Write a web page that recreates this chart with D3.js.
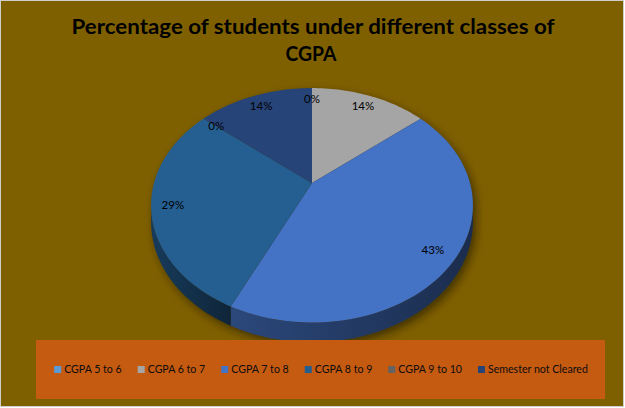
<!DOCTYPE html>
<html>
<head>
<meta charset="utf-8">
<script src="https://cdn.jsdelivr.net/npm/d3@7"></script>
<style>
    body { margin: 0; background: #ffffff; }
    text { font-family: Lato, "Liberation Sans", sans-serif; }
</style>
</head>
<body>
<div id="chart"></div>
<script>

// data
const categories = ["CGPA 5 to 6", "CGPA 6 to 7", "CGPA 7 to 8", "CGPA 8 to 9", "CGPA 9 to 10", "Semester not Cleared"];
const percentages = [0, 14, 43, 29, 0, 14];
const sliceColors = ["#5B9BD5", "#A5A5A5", "#4472C4", "#255E91", "#636363", "#264478"];
const titleLines = ["Percentage of students under different classes of", "CGPA"];

class Pie3DVis {

    constructor(parentElement) {
        this.parentElement = parentElement;
        this.width = 625;
        this.height = 408;

        this.data = categories.map((c, i) => ({label: c, value: percentages[i], color: sliceColors[i]}));

        this.initVis();
    }

    initVis() {
        let vis = this;

        vis.svg = d3.select("#" + vis.parentElement).append("svg")
            .attr("width", vis.width)
            .attr("height", vis.height);

        // chart area
        vis.svg.append("rect")
            .attr("x", 0.5).attr("y", 0.5)
            .attr("width", vis.width - 2).attr("height", vis.height - 2)
            .attr("fill", "#7F6000")
            .attr("stroke", "#cfcfcf");

        // title
        vis.svg.append("g").selectAll("text")
            .data(titleLines)
            .enter().append("text")
            .attr("x", (d, i) => i ? 311 : 313)
            .attr("y", (d, i) => 33.5 + i * 27.5)
            .attr("text-anchor", "middle")
            .attr("font-size", 20)
            .attr("font-weight", "bold")
            .attr("fill", "#000")
            .attr("textLength", (d, i) => i ? 51 : 483)
            .attr("lengthAdjust", "spacingAndGlyphs")
            .text(d => d);

        // perspective set-up of the pie
        vis.cx = 312;
        vis.cy = 183;
        vis.rx = 158;
        vis.ry = 113;
        vis.persp = 0.19;
        vis.depth = 16;

        vis.xScale = d3.scaleLinear().domain([-1, 1]).range([vis.cx - vis.rx, vis.cx + vis.rx]);
        vis.yScale = d3.scaleLinear().domain([-1, 1]).range([vis.cy + vis.ry, vis.cy - vis.ry]);

        vis.project = function (theta, r, z) {
            let u = r * Math.sin(theta), v = r * Math.cos(theta);
            let w = 1 + vis.persp * v;
            return [vis.xScale(u / w), vis.yScale((v - z * vis.depth / vis.ry) / w)];
        };

        vis.arcPoints = function (a0, a1, z) {
            let n = Math.max(2, Math.ceil(Math.abs(a1 - a0) * 40));
            return d3.range(n + 1).map(k => vis.project(a0 + (a1 - a0) * k / n, 1, z));
        };

        vis.line = d3.line();

        vis.pie = d3.pie().sort(null).value(d => d.value);
        vis.arcs = vis.pie(vis.data);

        let defs = vis.svg.append("defs");

        defs.append("filter")
            .attr("id", "pieShadow")
            .attr("x", "-20%").attr("y", "-20%").attr("width", "140%").attr("height", "140%")
            .append("feGaussianBlur")
            .attr("stdDeviation", 4);

        // shadow under the pie
        let shadow = vis.svg.append("g")
            .attr("filter", "url(#pieShadow)")
            .attr("transform", "translate(3,4)")
            .attr("opacity", 0.6);
        [0, 1].forEach(z => {
            shadow.append("path")
                .attr("d", vis.line(vis.arcPoints(0, 2 * Math.PI, z)) + "Z")
                .attr("fill", "#1a1300");
        });

        // side walls, only the part facing the viewer
        let tMin = Math.acos(-vis.persp), tMax = 2 * Math.PI - tMin;
        let walls = vis.arcs
            .map(d => ({d: d, a0: Math.max(d.startAngle, tMin), a1: Math.min(d.endAngle, tMax)}))
            .filter(w => w.a1 > w.a0);

        walls.forEach((w, i) => {
            let x0 = vis.project(w.a1, 1, 0)[0], x1 = vis.project(w.a0, 1, 0)[0];
            if (w.a0 <= Math.PI / 2 + 0.3) x1 = vis.cx + vis.rx;
            let grad = defs.append("linearGradient")
                .attr("id", "wall" + i)
                .attr("gradientUnits", "userSpaceOnUse")
                .attr("x1", Math.min(x0, x1)).attr("y1", 0)
                .attr("x2", Math.max(x0, x1)).attr("y2", 0);
            grad.append("stop").attr("offset", 0).attr("stop-color", d3.color(w.d.data.color).darker(1.3));
            grad.append("stop").attr("offset", 1).attr("stop-color", d3.color(w.d.data.color).darker(2.6));
        });

        vis.svg.append("g").selectAll("path")
            .data(walls)
            .enter().append("path")
            .attr("d", w => vis.line(vis.arcPoints(w.a0, w.a1, 0).concat(vis.arcPoints(w.a1, w.a0, 1))) + "Z")
            .attr("fill", (w, i) => "url(#wall" + i + ")");

        // top faces
        vis.svg.append("g").selectAll("path")
            .data(vis.arcs.filter(d => d.endAngle > d.startAngle))
            .enter().append("path")
            .attr("d", d => vis.line([vis.project(0, 0, 0)].concat(vis.arcPoints(d.startAngle, d.endAngle, 0))) + "Z")
            .attr("fill", d => d.data.color);

        // data labels
        vis.svg.append("g").selectAll("text")
            .data(vis.arcs)
            .enter().append("text")
            .attr("x", d => vis.project((d.startAngle + d.endAngle) / 2, 0.87, 0)[0])
            .attr("y", d => vis.project((d.startAngle + d.endAngle) / 2, 0.87, 0)[1])
            .attr("dy", "0.35em")
            .attr("text-anchor", "middle")
            .attr("font-size", 11.5)
            .attr("fill", "#000")
            .text(d => d.data.value + "%");

        // legend
        vis.svg.append("rect")
            .attr("x", 36).attr("y", 340)
            .attr("width", 569).attr("height", 59)
            .attr("fill", "#C55A11");

        let legend = vis.svg.append("g");
        let items = legend.selectAll("g")
            .data(vis.data)
            .enter().append("g");

        items.append("rect")
            .attr("y", 366)
            .attr("width", 7).attr("height", 7)
            .attr("fill", d => d.color);

        items.append("text")
            .attr("x", 10)
            .attr("y", 373)
            .attr("font-size", 10.6)
            .attr("fill", "#0d0d0d")
            .text(d => d.label);

        let offset = 0;
        items.each(function () {
            let g = d3.select(this);
            g.attr("transform", `translate(${offset},0)`);
            offset += 10 + g.select("text").node().getComputedTextLength() + 16;
        });
        let total = offset - 16;
        legend.attr("transform", `translate(${321 - total / 2},0)`);
    }
}

new Pie3DVis("chart");

</script>
</body>
</html>
